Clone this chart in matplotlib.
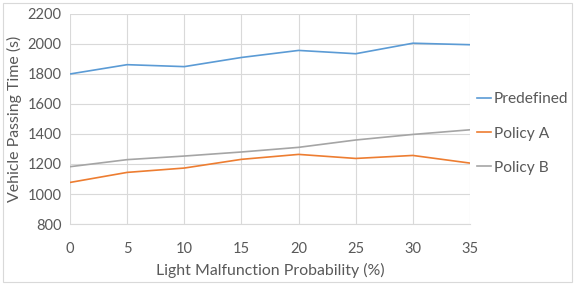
import matplotlib
matplotlib.use("Agg")
import matplotlib.pyplot as plt
from matplotlib.patches import Rectangle

# data
probability = [0, 5, 10, 15, 20, 25, 30, 35]
predefined = [1800, 1862, 1849, 1910, 1957, 1935, 2005, 1995]
policy_a = [1077, 1144, 1173, 1231, 1264, 1237, 1257, 1206]
policy_b = [1182, 1229, 1253, 1280, 1311, 1360, 1397, 1428]
series_names = ["Predefined", "Policy A", "Policy B"]
y_ticks = [800, 1000, 1200, 1400, 1600, 1800, 2000, 2200]

plt.rcParams["font.family"] = ["Lato", "DejaVu Sans"]
text_color = "#595959"
grid_color = "#D9D9D9"
colors = ["#5B9BD5", "#ED7D31", "#A5A5A5"]

fig = plt.figure(figsize=(5.75, 2.85), dpi=100)
ax = fig.add_axes([0.1217, 0.214, 0.6957, 0.737])

for values, name, color in zip([predefined, policy_a, policy_b], series_names, colors):
    ax.plot(probability, values, color=color, linewidth=1.2, label=name)

ax.set_xlim(0, 35)
ax.set_ylim(800, 2200)
ax.set_xticks(probability)
ax.set_yticks(y_ticks)
ax.grid(True, color=grid_color, linewidth=0.8)
ax.set_axisbelow(True)
for side in ["top", "right", "left"]:
    ax.spines[side].set_visible(False)
ax.spines["bottom"].set_color(grid_color)
ax.tick_params(length=0, labelsize=10.5, colors=text_color)
ax.tick_params(axis="x", pad=13)
ax.tick_params(axis="y", pad=6)

ax.set_xlabel("Light Malfunction Probability (%)", fontsize=11.4, color=text_color, labelpad=5)
ax.set_ylabel("Vehicle Passing Time (s)", fontsize=11.4, color=text_color, labelpad=4)

ax.legend(loc="center left", bbox_to_anchor=(0.995, 0.43), frameon=False,
          handlelength=0.85, handletextpad=0.2, labelspacing=1.3,
          fontsize=11.2, labelcolor=text_color, borderaxespad=0.2)

fig.patches.append(Rectangle((0.006, 0.012), 0.988, 0.976, transform=fig.transFigure,
                             fill=False, edgecolor=grid_color, linewidth=0.8))

fig.savefig("out.png", dpi=100)
